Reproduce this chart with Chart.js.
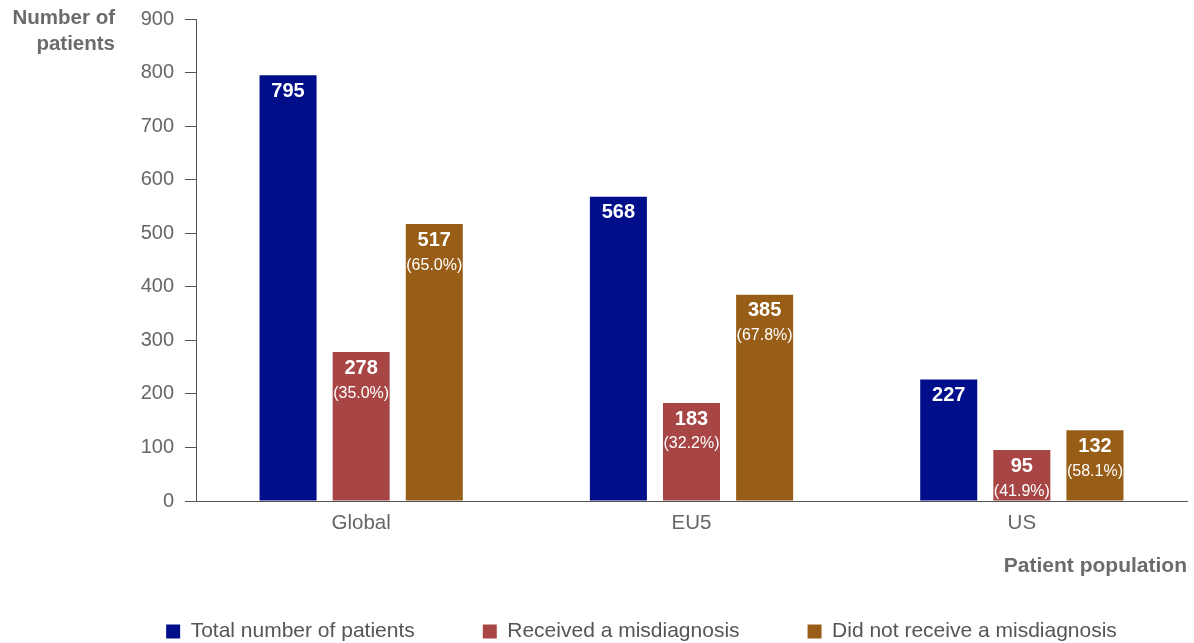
<!DOCTYPE html>
<html><head><meta charset="utf-8">
<script src="https://cdn.jsdelivr.net/npm/chart.js@4/dist/chart.umd.min.js"></script>
<style>html,body{margin:0;padding:0;background:#fff}#wrap{width:1194px;height:643px;position:relative}</style>
</head><body><div id="wrap"><canvas id="c" width="1194" height="643"></canvas></div>
<script>
const categories = ["Global", "EU5", "US"];
const seriesNames = ["Total number of patients", "Received a misdiagnosis", "Did not receive a misdiagnosis"];
const totalPatients = [795, 568, 227];
const misdiagnosed = [278, 183, 95];
const notMisdiagnosed = [517, 385, 132];
const misdiagnosedPct = ["(35.0%)", "(32.2%)", "(41.9%)"];
const notMisdiagnosedPct = ["(65.0%)", "(67.8%)", "(58.1%)"];
const yTicks = [0, 100, 200, 300, 400, 500, 600, 700, 800, 900];
const colors = ["#000e8a", "#a84646", "#985d17"];
const FONT = "'Liberation Sans', Arial, Helvetica, sans-serif";

const pctLabels = [null, misdiagnosedPct, notMisdiagnosedPct];

const labelPlugin = {
  id: 'barLabels',
  afterDatasetsDraw(chart) {
    const ctx = chart.ctx;
    ctx.save();
    ctx.fillStyle = '#fff';
    ctx.textAlign = 'center';
    ctx.textBaseline = 'middle';
    chart.data.datasets.forEach((ds, di) => {
      const meta = chart.getDatasetMeta(di);
      meta.data.forEach((bar, i) => {
        ctx.font = 'bold 20px ' + FONT;
        ctx.fillText(String(ds.data[i]), bar.x, bar.y + 16);
        if (pctLabels[di]) {
          ctx.font = '16px ' + FONT;
          ctx.fillText(pctLabels[di][i], bar.x, bar.y + 41);
        }
      });
    });
    ctx.restore();
  }
};

const titlePlugin = {
  id: 'axisTitles',
  afterLayout(chart) {
    const l = chart.legend;
    if (l) { l.top += 9; l.bottom += 9; l.left += 48; l.right += 48; }
  },
  afterDraw(chart) {
    const ctx = chart.ctx;
    ctx.save();
    ctx.fillStyle = '#6b6b6b';
    ctx.font = 'bold 20.5px ' + FONT;
    ctx.textAlign = 'right';
    ctx.textBaseline = 'middle';
    ctx.fillText('Number of', 115, 18);
    ctx.fillText('patients', 115, 44);
    ctx.font = 'bold 21px ' + FONT;
    ctx.fillText('Patient population', 1187, 566);
    ctx.restore();
  }
};

new Chart(document.getElementById('c'), {
  type: 'bar',
  data: {
    labels: categories,
    datasets: [
      { label: seriesNames[0], data: totalPatients, backgroundColor: colors[0] },
      { label: seriesNames[1], data: misdiagnosed, backgroundColor: colors[1] },
      { label: seriesNames[2], data: notMisdiagnosed, backgroundColor: colors[2] }
    ]
  },
  options: {
    responsive: false,
    animation: false,
    devicePixelRatio: 1,
    layout: { padding: { top: 19, right: 7, left: 0, bottom: 0 } },
    datasets: { bar: { categoryPercentage: 0.664, barPercentage: 0.78 } },
    plugins: {
      legend: {
        position: 'bottom',
        labels: {
          boxWidth: 14, boxHeight: 14, padding: 68,
          color: '#555', font: { family: FONT, size: 21 }
        }
      },
      tooltip: { enabled: false }
    },
    scales: {
      x: {
        grid: { display: false, drawTicks: false },
        border: { display: true, color: '#555', width: 1 },
        ticks: { color: '#666', font: { family: FONT, size: 20.5 }, padding: 10 },
        afterFit(s) { s.height = 43; }
      },
      y: {
        min: 0, max: 900,
        afterBuildTicks(s) { s.ticks = yTicks.map(v => ({ value: v })); },
        grid: { drawOnChartArea: false, drawTicks: true, tickLength: 11, color: '#555' },
        border: { display: true, color: '#555', width: 1 },
        ticks: { color: '#666', font: { family: FONT, size: 20 }, padding: 11 },
        afterFit(s) { s.width = 196; s.paddingTop = 0; s.paddingBottom = 0; }
      }
    }
  },
  plugins: [labelPlugin, titlePlugin]
});
</script></body></html>
